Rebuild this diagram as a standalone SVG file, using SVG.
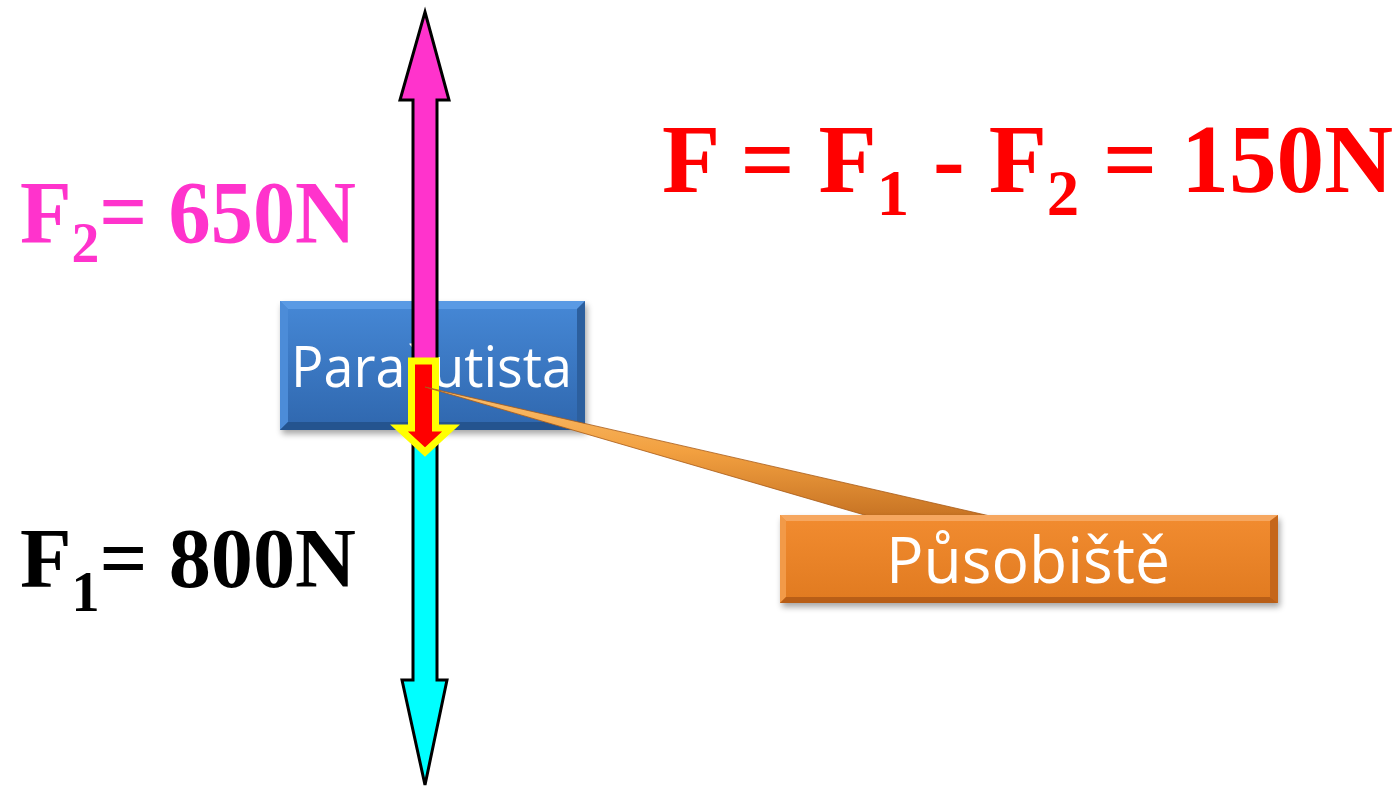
<svg xmlns="http://www.w3.org/2000/svg" width="1400" height="788" viewBox="0 0 1400 788">
<style>
.times{font-family:"Liberation Serif","Times New Roman",serif;font-weight:bold}
.cal{font-family:"Open Sans","Liberation Sans",sans-serif;fill:#ffffff}
.arrow{stroke:#000;stroke-width:3;stroke-linejoin:miter}
</style>
<defs>
<linearGradient id="blueG" x1="0" y1="0" x2="0" y2="1">
<stop offset="0" stop-color="#4688D6"/><stop offset="1" stop-color="#2F67AE"/>
</linearGradient>
<linearGradient id="orG" x1="0" y1="0" x2="0" y2="1">
<stop offset="0" stop-color="#F28C30"/><stop offset="1" stop-color="#E07A20"/>
</linearGradient>
<linearGradient id="wedgeG" x1="0" y1="0" x2="0" y2="1">
<stop offset="0" stop-color="#FAC070"/><stop offset="0.5" stop-color="#F2A040"/><stop offset="1" stop-color="#C87424"/>
</linearGradient>
<filter id="sh" x="-10%" y="-10%" width="120%" height="130%">
<feGaussianBlur stdDeviation="3"/>
</filter>
</defs>

<g id="node-parasutista">
<rect x="282" y="305" width="305" height="129" fill="#000" opacity="0.35" filter="url(#sh)"/>
<rect x="280" y="301" width="305" height="129" fill="url(#blueG)"/>
<polygon points="280,301 585,301 577,309 288,309" fill="#5A9AE4"/>
<polygon points="280,301 288,309 288,422 280,430" fill="#4C8CD8"/>
<polygon points="585,301 585,430 577,422 577,309" fill="#2C5F9E"/>
<polygon points="280,430 585,430 577,422 288,422" fill="#24548F"/>
<text class="cal" x="291" y="387" font-size="57" textLength="281" lengthAdjust="spacingAndGlyphs">Parašutista</text>
</g>

<g id="force-F2">
<polygon class="arrow" fill="#FF33CC" points="425,12 449,100 437,100 437,400 413,400 413,100 400,100"/>
</g>
<g id="force-F1">
<polygon class="arrow" fill="#00FFFF" points="413,400 437,400 437,680 447,680 425,785 402,680 413,680"/>
</g>

<g id="resultant-F">
<polygon fill="#FF0000" stroke="#FFFF00" stroke-width="7" stroke-linejoin="miter" points="411.5,361 435.5,361 435.5,428 451,428 425,452 399,428 411.5,428"/>
</g>

<g id="connectors">
<polygon points="425,387 990,516 868,516" fill="url(#wedgeG)" stroke="#A85A16" stroke-width="0.8"/>
</g>

<g id="node-pusobiste">
<rect x="782" y="519" width="498" height="88" fill="#000" opacity="0.35" filter="url(#sh)"/>
<rect x="780" y="515" width="498" height="88" fill="url(#orG)"/>
<polygon points="780,515 1278,515 1270,521 786,521" fill="#F6A760"/>
<polygon points="780,515 786,521 786,597 780,603" fill="#F29A48"/>
<polygon points="1278,515 1278,603 1270,597 1270,521" fill="#C5661A"/>
<polygon points="780,603 1278,603 1270,597 786,597" fill="#B85E17"/>
<text class="cal" x="886" y="583" font-size="64" textLength="284" lengthAdjust="spacingAndGlyphs">Působiště</text>
</g>

<g id="label-F2">
<text class="times" x="20" y="242" font-size="88" fill="#FF33CC" textLength="336" lengthAdjust="spacingAndGlyphs">F<tspan font-size="58" dy="20">2</tspan><tspan dy="-20">= 650N</tspan></text>
</g>
<g id="label-F1">
<text class="times" x="20" y="587" font-size="84" fill="#000" textLength="336" lengthAdjust="spacingAndGlyphs">F<tspan font-size="56" dy="24">1</tspan><tspan dy="-24">= 800N</tspan></text>
</g>
<g id="label-formula">
<text class="times" x="662" y="192" font-size="97" fill="#FF0000" textLength="731" lengthAdjust="spacingAndGlyphs">F = F<tspan font-size="66" dy="23">1</tspan><tspan dy="-23"> - F</tspan><tspan font-size="66" dy="23">2</tspan><tspan dy="-23"> = 150N</tspan></text>
</g>
</svg>
